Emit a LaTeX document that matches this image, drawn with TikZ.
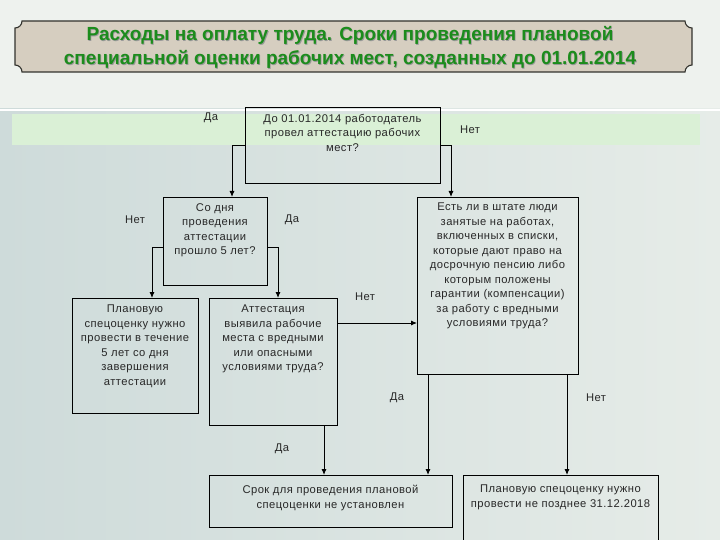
\documentclass[tikz,border=0pt]{standalone}
\usepackage{fontspec}
\setmainfont{Liberation Sans}
\newfontfamily\boxfont[LetterSpace=4]{Liberation Sans}
\usetikzlibrary{positioning}
\usetikzlibrary{arrows.meta}
\definecolor{pagebg}{RGB}{230,236,232}
\definecolor{pageleft}{RGB}{206,219,218}
\definecolor{topbg}{RGB}{238,242,238}
\definecolor{greenband}{RGB}{218,240,214}
\definecolor{bannerfill}{RGB}{214,206,192}
\definecolor{bannerline}{RGB}{50,50,45}
\definecolor{titlegreen}{RGB}{28,140,28}
\definecolor{inktext}{RGB}{40,40,40}
\tikzstyle{question}=[draw, inner sep=0pt, outer sep=0pt, line width=0.9pt]
\tikzstyle{box text}=[inner sep=0pt, align=center, text=inktext, font=\boxfont\fontsize{11.2}{14.5}\selectfont]
\tikzstyle{answer}=[inner sep=0pt, text=inktext, font=\boxfont\fontsize{11.2}{14.5}\selectfont]
\tikzstyle{flow}=[draw, line width=0.9pt, -{Latex[length=6pt, width=5pt]}]
\tikzstyle{banner}=[fill=bannerfill, draw=bannerline, line width=1.1pt]

\begin{document}
\begin{tikzpicture}[x=1pt, y=-1pt]
      \shade[left color=pageleft, right color=pagebg] (0, 0) rectangle (720, 540);
      \useasboundingbox (0, 0) rectangle (720, 540);
      \fill[topbg] (0, 0) rectangle (720, 108);
      \draw[white, line width=2pt] (0, 110) -- (720, 110);
      \fill[greenband] (12, 114) rectangle (700, 145);
      \draw[banner] (22, 21) -- (685, 21)
        arc[start angle=180, end angle=90, radius=7]
        -- (692, 65)
        arc[start angle=270, end angle=180, radius=7]
        -- (22, 72)
        arc[start angle=0, end angle=-90, radius=7]
        -- (15, 28)
        arc[start angle=90, end angle=0, radius=7]
        -- cycle;
      \node[align=center, text=black!40, font=\fontsize{19}{24}\selectfont\bfseries] (title shadow) at (350.8, 48.2)
        {Расходы на оплату труда. Сроки проведения плановой\\специальной оценки рабочих мест, созданных до 01.01.2014};
      \node[align=center, text=titlegreen, font=\fontsize{19}{24}\selectfont\bfseries] (title) at (350, 47.5)
        {Расходы на оплату труда. Сроки проведения плановой\\специальной оценки рабочих мест, созданных до 01.01.2014};

      \node[question, minimum width=195pt, minimum height=76pt] (q1) at (342.5, 145) {};
      \node[question, minimum width=104pt, minimum height=88pt] (q2) at (215, 241) {};
      \node[question, minimum width=126pt, minimum height=115pt] (q3) at (135, 355.5) {};
      \node[question, minimum width=128pt, minimum height=127pt] (q4) at (273, 361.5) {};
      \node[question, minimum width=161pt, minimum height=177pt] (q5) at (497.5, 285.5) {};
      \node[question, minimum width=243pt, minimum height=52pt] (q6) at (330.5, 501) {};
      \node[question, minimum width=195pt, minimum height=76pt] (q7) at (560.5, 513) {};

      \node[box text, below=7pt of q1.north] (q1 text) {До 01.01.2014 работодатель\\провел аттестацию рабочих\\мест?};
      \node[box text, below=6pt of q2.north] (q2 text) {Со дня\\проведения\\аттестации\\прошло 5 лет?};
      \node[box text, below=7pt of q3.north] (q3 text) {Плановую\\спецоценку нужно\\провести в течение\\5 лет со дня\\завершения\\аттестации};
      \node[box text, below=7pt of q4.north] (q4 text) {Аттестация\\выявила рабочие\\места с вредными\\или опасными\\условиями труда?};
      \node[box text, below=6pt of q5.north] (q5 text) {Есть ли в штате люди\\занятые на работах,\\включенных в списки,\\которые дают право на\\досрочную пенсию либо\\которым положены\\гарантии (компенсации)\\за работу с вредными\\условиями труда?};
      \node[box text, below=10pt of q6.north] (q6 text) {Срок для проведения плановой\\спецоценки не установлен};
      \node[box text, below=10pt of q7.north] (q7 text) {Плановую спецоценку нужно\\провести не позднее 31.12.2018};

      \node[answer] (a1) at (211, 118) {Да};
      \node[answer] (a2) at (470, 130) {Нет};
      \node[answer] (a3) at (135, 220) {Нет};
      \node[answer] (a4) at (292, 220) {Да};
      \node[answer] (a5) at (365, 297) {Нет};
      \node[answer] (a6) at (397, 398) {Да};
      \node[answer] (a7) at (596, 398) {Нет};
      \node[answer] (a8) at (282, 449) {Да};

      \draw[flow] (q1.west) -| ([xshift=17pt]q2.north);
      \draw[flow] (q1.east) -| ([xshift=-46.5pt]q5.north);
      \draw[flow] ([yshift=-6pt]q2.west) -| ([xshift=17pt]q3.north);
      \draw[flow] ([yshift=-6pt]q2.east) -| ([xshift=5pt]q4.north);
      \draw[flow] ([yshift=38.5pt]q4.east) -- ([yshift=-37.5pt]q5.west);
      \draw[flow] ([xshift=51pt]q4.south) -- ([xshift=51pt]q4.south |- q6.north);
      \draw[flow] ([xshift=-69.5pt]q5.south) -- ([xshift=-69.5pt]q5.south |- q6.north);
      \draw[flow] ([xshift=69.5pt]q5.south) -- ([xshift=69.5pt]q5.south |- q7.north);
    \end{tikzpicture}
\end{document}
